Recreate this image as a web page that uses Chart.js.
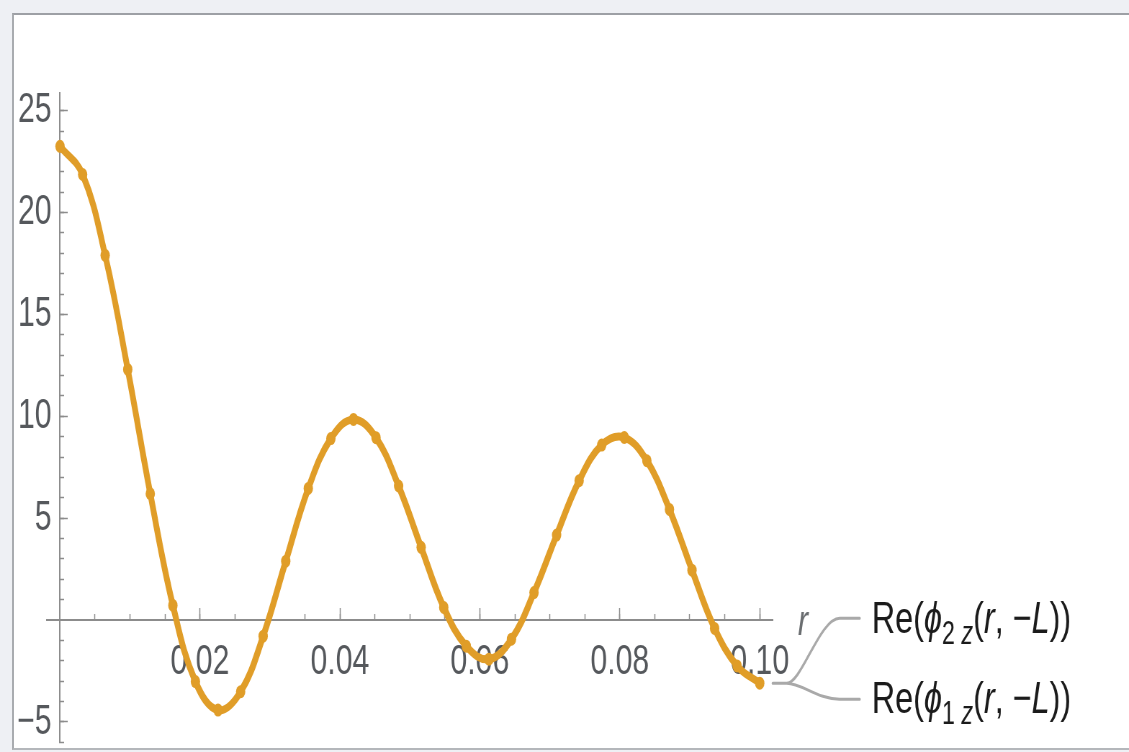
<!DOCTYPE html>
<html>
<head>
<meta charset="utf-8">
<script src="https://cdn.jsdelivr.net/npm/chart.js@4.4.1/dist/chart.umd.min.js"></script>
<style>
  html, body { margin: 0; padding: 0; width: 1129px; height: 752px; overflow: hidden; background: #eef0f4; }
  #panel { position: absolute; left: 12px; top: 13px; width: 1115px; height: 733px; background: #fff;
           border-top: 2px solid #9da0a5; border-left: 2px solid #a9acb0; border-bottom: 2px solid #b4b7bb; }
  /* the plot is laid out on a wider canvas and squeezed horizontally */
  #wrap { position: absolute; left: 0; top: 0; width: 1568px; height: 752px; transform: scaleX(0.72); transform-origin: 0 0; }
</style>
</head>
<body>
<div id="panel"></div>
<div id="wrap"><canvas id="c"></canvas></div>
<script>
// sample points in r
const rValues = [0, 0.00323, 0.00645, 0.00968, 0.0129, 0.01613, 0.01935, 0.02258, 0.02581, 0.02903,
                 0.03226, 0.03548, 0.03871, 0.04194, 0.04516, 0.04839, 0.05161, 0.05484, 0.05806, 0.06129,
                 0.06452, 0.06774, 0.07097, 0.07419, 0.07742, 0.08065, 0.08387, 0.0871, 0.09032, 0.09355,
                 0.09677, 0.1];
// Re(phi_2z(r, -L))
const phi2 = [23.25, 21.87, 17.9, 12.3, 6.2, 0.72, -3.02, -4.42, -3.52, -0.79,
              2.89, 6.46, 8.91, 9.85, 8.95, 6.58, 3.57, 0.62, -1.28, -1.92,
              -0.94, 1.35, 4.17, 6.84, 8.59, 8.96, 7.82, 5.43, 2.45, -0.41,
              -2.25, -3.1];
// Re(phi_1z(r, -L))
const phi1 = [23.25, 21.87, 17.9, 12.3, 6.2, 0.72, -3.02, -4.42, -3.52, -0.79,
              2.89, 6.46, 8.91, 9.85, 8.95, 6.58, 3.57, 0.62, -1.28, -1.92,
              -0.94, 1.35, 4.17, 6.84, 8.59, 8.96, 7.82, 5.43, 2.45, -0.41,
              -2.25, -3.1];

const xMajorTicks = [0.02, 0.04, 0.06, 0.08, 0.1];
const xMinorTicks = [0.005, 0.01, 0.015, 0.02, 0.025, 0.03, 0.035, 0.04, 0.045, 0.05,
                     0.055, 0.06, 0.065, 0.07, 0.075, 0.08, 0.085, 0.09, 0.095, 0.1];
const yMajorTicks = [-5, 5, 10, 15, 20, 25];
const yMinorTicks = [-6, -5, -4, -3, -2, -1, 1, 2, 3, 4, 5, 6, 7, 8, 9, 10, 11, 12, 13, 14, 15,
                     16, 17, 18, 19, 20, 21, 22, 23, 24, 25];

const seriesNames = ['Re(\u03d52z(r, \u2212L))', 'Re(\u03d51z(r, \u2212L))'];
const calloutMarkup = ['Re(<i>\u03d5</i><sub>2 <i>z</i></sub>(<i>r</i>, \u2212<i>L</i>))',
                       'Re(<i>\u03d5</i><sub>1 <i>z</i></sub>(<i>r</i>, \u2212<i>L</i>))'];
const axisLabelX = 'r';

const SX = 0.72;                 // horizontal squeeze of #wrap
const X_MIN = -0.0019, X_MAX = 0.1019;
const Y_MIN = -6, Y_MAX = 25.86;
const AXIS = '#8c8c8c';
const TICKTXT = '#55585c';
const FONT = '"Liberation Sans", Arial, "DejaVu Sans", sans-serif';
const ORANGE = '#e09d28';
const BLUE = '#5e81b5';

function pts(ys) { return rValues.map((r, i) => ({ x: r, y: ys[i] })); }
function setTicks(list) { return axis => { axis.ticks = list.map(v => ({ value: v })); }; }
// labels sit just left of the axis line; the trailing space keeps a small gap
function fmtY(v) { return (v < 0 ? '\u2212' + Math.abs(v) : String(v)) + ' '; }
// axes drawn through the plot should not push the plot area inwards
function noPad(s) { s.paddingTop = 0; s.paddingBottom = 0; s.paddingLeft = 0; s.paddingRight = 0; }

function runsFrom(markup) {
  const runs = []; let italic = false, sub = false;
  markup.split(/(<\/?(?:i|sub)>)/).forEach(tok => {
    if (tok === '<i>') italic = true;
    else if (tok === '</i>') italic = false;
    else if (tok === '<sub>') sub = true;
    else if (tok === '</sub>') sub = false;
    else if (tok) runs.push({ text: tok, italic, sub });
  });
  return runs;
}

function drawRich(ctx, markup, x, baseline, size) {
  ctx.textBaseline = 'alphabetic';
  ctx.textAlign = 'left';
  runsFrom(markup).forEach(run => {
    const s = run.sub ? size * 0.72 : size;
    ctx.font = (run.italic ? 'italic ' : '') + s + 'px ' + FONT;
    ctx.fillText(run.text, x, baseline + (run.sub ? size * 0.24 : 0));
    x += ctx.measureText(run.text).width;
  });
}

// callout labels with leader lines, plus the axis name
const callouts = {
  id: 'callouts',
  afterDraw(chart) {
    const ctx = chart.ctx;
    const xs = chart.scales.x, ys = chart.scales.y;
    const last = rValues.length - 1;
    const px = xs.getPixelForValue(rValues[last]);
    const py = ys.getPixelForValue(phi2[last]);
    const u = v => v / SX;       // page px -> canvas px (horizontal)
    ctx.save();
    ctx.strokeStyle = '#a9a9a9';
    ctx.lineWidth = 3;
    ctx.lineCap = 'round';
    const x0 = px + u(13), x1 = px + u(27);
    const yTop = py - 65, yBot = py + 16;
    ctx.beginPath();
    ctx.moveTo(x0, py); ctx.lineTo(x1, py);
    ctx.bezierCurveTo(px + u(42), py, px + u(60), yTop, px + u(80), yTop);
    ctx.lineTo(px + u(100), yTop);
    ctx.moveTo(x1, py);
    ctx.bezierCurveTo(px + u(42), py, px + u(58), yBot, px + u(80), yBot);
    ctx.lineTo(px + u(100), yBot);
    ctx.stroke();

    ctx.fillStyle = '#1b1b1b';
    drawRich(ctx, calloutMarkup[0], px + u(112), yTop + 15, 45);
    drawRich(ctx, calloutMarkup[1], px + u(112), yBot + 14, 45);

    ctx.fillStyle = '#6a6d70';
    ctx.font = 'italic 42px ' + FONT;
    ctx.textAlign = 'left';
    ctx.textBaseline = 'alphabetic';
    ctx.fillText(axisLabelX, xs.getPixelForValue(X_MAX) + u(25), ys.getPixelForValue(0) + 15);
    ctx.restore();
  }
};

new Chart(document.getElementById('c'), {
  type: 'line',
  data: {
    datasets: [
      { label: seriesNames[0], data: pts(phi2), borderColor: ORANGE, backgroundColor: ORANGE,
        borderWidth: 8, pointRadius: 6.5, pointHoverRadius: 6.5, pointBorderWidth: 0, tension: 0.4,
        xAxisID: 'x', yAxisID: 'y' },
      { label: seriesNames[1], data: pts(phi1), borderColor: BLUE, backgroundColor: BLUE,
        borderWidth: 6, pointRadius: 5, pointHoverRadius: 5, pointBorderWidth: 0, tension: 0.4,
        xAxisID: 'x', yAxisID: 'y' }
    ]
  },
  options: {
    responsive: true,
    maintainAspectRatio: false,
    animation: false,
    events: [],
    layout: { padding: { left: 64.9, right: 1568 - 1073.6, top: 93.2, bottom: 9.7 } },
    plugins: { legend: { display: false }, tooltip: { enabled: false } },
    scales: {
      x: {
        type: 'linear', min: X_MIN, max: X_MAX, position: { y: 0 },
        afterBuildTicks: setTicks(xMinorTicks), afterFit: noPad,
        ticks: { display: false },
        grid: { drawOnChartArea: false, tickLength: -7, tickColor: AXIS, tickWidth: 1.5 },
        border: { display: true, color: AXIS, width: 2 }
      },
      xMajor: {
        type: 'linear', axis: 'x', min: X_MIN, max: X_MAX, position: { y: 0 }, z: 1,
        afterBuildTicks: setTicks(xMajorTicks), afterFit: noPad,
        ticks: { autoSkip: false, maxRotation: 0, padding: 29, color: TICKTXT,
                 font: { family: FONT, size: 42 }, callback: v => v.toFixed(2) },
        grid: { drawOnChartArea: false, tickLength: -12, tickColor: AXIS, tickWidth: 1.5 },
        border: { display: false }
      },
      y: {
        type: 'linear', min: Y_MIN, max: Y_MAX, position: { x: 0 },
        afterBuildTicks: setTicks(yMinorTicks), afterFit: noPad,
        ticks: { display: false },
        grid: { drawOnChartArea: false, tickLength: -7, tickColor: AXIS, tickWidth: 1.5 },
        border: { display: true, color: AXIS, width: 2 }
      },
      yMajor: {
        type: 'linear', axis: 'y', min: Y_MIN, max: Y_MAX, position: { x: 0 }, z: 1,
        afterBuildTicks: setTicks(yMajorTicks), afterFit: noPad,
        ticks: { autoSkip: false, padding: 0, color: TICKTXT,
                 font: { family: FONT, size: 42 }, callback: fmtY },
        grid: { drawOnChartArea: false, tickLength: -11, tickColor: AXIS, tickWidth: 1.5 },
        border: { display: false }
      }
    }
  },
  plugins: [callouts]
});
</script>
</body>
</html>
